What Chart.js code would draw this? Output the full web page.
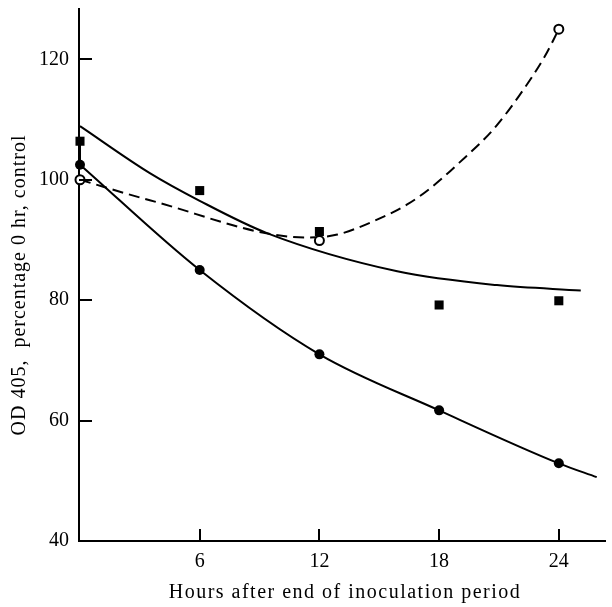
<!DOCTYPE html>
<html>
<head>
<meta charset="utf-8">
<title>OD 405 after inoculation</title>
<script src="https://cdn.jsdelivr.net/npm/chart.js@4.4.0/dist/chart.umd.min.js"></script>
<style>
  html, body { margin: 0; padding: 0; background: #fff; }
  #chart { display: block; }
</style>
</head>
<body>
<canvas id="chart" width="612" height="607"></canvas>
<script>
  "use strict";

  // Measured points (hours after end of inoculation period)
  const hours = [0, 6, 12, 18, 24];
  const filledCircle = [102.5, 85.0, 71.0, 61.7, 52.9];
  const filledSquare = [106.4, 98.2, 91.4, 79.2, 79.9];
  const openHours = [0, 12, 24];
  const openCircle = [100.0, 89.9, 125.0];

  // Hand drawn fitted curves
  const curveAHours = [0, 6, 12, 18, 24, 25.9];
  const curveAValues = [102.5, 85.0, 71.0, 61.7, 52.9, 50.6];
  const curveBHours = [0, 3.5, 6, 9.4, 15.9, 20.9, 25.1];
  const curveBValues = [108.9, 101.1, 96.5, 91.1, 84.8, 82.5, 81.6];
  const curveCHours = [0, 3.5, 11.4, 12.9, 14.7, 16.4, 17.6, 19.0, 20.7, 22.0, 23.3, 24];
  const curveCValues = [100, 96.6, 90.4, 90.9, 93.1, 95.9, 98.7, 102.8, 108.3, 113.9, 120.5, 125];

  // small connector between square and circle at 0 hr
  const connectorValues = [106.4, 102.5];

  // Axes
  const xTicks = [6, 12, 18, 24];
  const yTicks = [40, 60, 80, 100, 120];
  const xTitle = "Hours after end of inoculation period";
  const yTitle = "OD 405,  percentage 0 hr, control";

  const toPoints = function (xs, ys) {
    return xs.map(function (x, i) { return { x: x, y: ys[i] }; });
  };

  const serif = "'Liberation Serif', 'DejaVu Serif', serif";

  // tick marks pointing inwards + axis titles
  const axisDecor = {
    id: "axisDecor",
    afterDraw: function (chart) {
      const ctx = chart.ctx;
      const xs = chart.scales.x;
      const ys = chart.scales.y;
      const area = chart.chartArea;
      ctx.save();
      ctx.strokeStyle = "#000";
      ctx.lineWidth = 2;
      ctx.beginPath();
      yTicks.slice(1).forEach(function (v) {
        const py = Math.round(ys.getPixelForValue(v));
        ctx.moveTo(area.left, py);
        ctx.lineTo(area.left + 13, py);
      });
      xTicks.forEach(function (v) {
        const px = Math.round(xs.getPixelForValue(v));
        ctx.moveTo(px, area.bottom);
        ctx.lineTo(px, area.bottom - 12);
      });
      ctx.stroke();

      ctx.fillStyle = "#000";
      ctx.font = "20px " + serif;
      ctx.textAlign = "center";
      ctx.textBaseline = "alphabetic";
      ctx.letterSpacing = "1.5px";
      ctx.fillText(xTitle, 345, area.bottom + 57);

      ctx.letterSpacing = "1px";
      ctx.translate(25, 285);
      ctx.rotate(-Math.PI / 2);
      ctx.fillText(yTitle, 0, 0);
      ctx.restore();
    },
  };

  const marker = function (label, xs, ys, extra) {
    return Object.assign({
      label: label,
      data: toPoints(xs, ys),
      clip: false,
      pointBackgroundColor: "#000",
      pointBorderWidth: 0,
    }, extra);
  };

  const curve = function (label, xs, ys, extra) {
    return Object.assign({
      label: label,
      data: toPoints(xs, ys),
      showLine: true,
      pointRadius: 0,
      borderColor: "#000",
      borderWidth: 2,
      cubicInterpolationMode: "monotone",
    }, extra);
  };

  // no extra room for half tick labels at the ends of the axes
  const noEndPadding = function (scale) {
    scale.paddingTop = 0;
    scale.paddingBottom = 0;
    scale.paddingLeft = 0;
    scale.paddingRight = 0;
  };

  const ctx = document.getElementById("chart").getContext("2d");
  const myChart = new Chart(ctx, {
    type: "scatter",
    data: {
      datasets: [
        marker("filled circle", hours, filledCircle, { pointStyle: "circle", pointRadius: 5 }),
        marker("filled square", hours, filledSquare, { pointStyle: "rect", pointRadius: 6.4 }),
        marker("open circle", openHours, openCircle, {
          pointStyle: "circle",
          pointRadius: 4.5,
          pointBackgroundColor: "#fff",
          pointBorderColor: "#000",
          pointBorderWidth: 2,
        }),
        curve("curve A", curveAHours, curveAValues),
        curve("curve B", curveBHours, curveBValues),
        curve("curve C", curveCHours, curveCValues, { borderDash: [11, 6] }),
        curve("connector", [0, 0], connectorValues, { clip: false }),
      ],
    },
    options: {
      responsive: false,
      animation: false,
      devicePixelRatio: 1,
      events: [],
      layout: { padding: { top: 9, right: -6, left: 0, bottom: 0 } },
      plugins: {
        legend: { display: false },
        tooltip: { enabled: false },
      },
      scales: {
        x: {
          type: "linear",
          min: -0.05,
          max: 26.34,
          afterBuildTicks: function (scale) {
            scale.ticks = xTicks.map(function (v) { return { value: v }; });
          },
          afterFit: function (scale) {
            scale.height = 66;
            noEndPadding(scale);
          },
          grid: { display: false, drawTicks: false },
          border: { display: true, color: "#000", width: 2 },
          ticks: {
            color: "#000",
            font: { family: serif, size: 20 },
            padding: 9,
            maxRotation: 0,
            autoSkip: false,
          },
        },
        y: {
          type: "linear",
          min: 40,
          max: 128.36,
          afterBuildTicks: function (scale) {
            scale.ticks = yTicks.map(function (v) { return { value: v }; });
          },
          afterFit: function (scale) {
            scale.width = 79;
            noEndPadding(scale);
          },
          grid: { display: false, drawTicks: false },
          border: { display: true, color: "#000", width: 2 },
          ticks: {
            color: "#000",
            font: { family: serif, size: 20 },
            padding: 10,
            autoSkip: false,
          },
        },
      },
    },
    plugins: [axisDecor],
  });
</script>
</body>
</html>
